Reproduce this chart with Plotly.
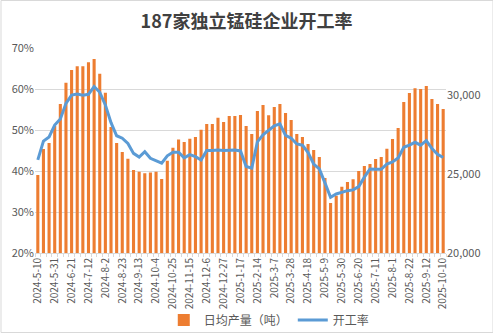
import plotly.graph_objects as go

# Weekly sample dates (holiday weeks 2025-1-31 and 2025-10-3 not reported)
dates = [
    "2024-5-10", "2024-5-17", "2024-5-24", "2024-5-31", "2024-6-7", "2024-6-14",
    "2024-6-21", "2024-6-28", "2024-7-5", "2024-7-12", "2024-7-19", "2024-7-26",
    "2024-8-2", "2024-8-9", "2024-8-16", "2024-8-23", "2024-8-30", "2024-9-6",
    "2024-9-13", "2024-9-20", "2024-9-27", "2024-10-4", "2024-10-11", "2024-10-18",
    "2024-10-25", "2024-11-1", "2024-11-8", "2024-11-15", "2024-11-22", "2024-11-29",
    "2024-12-6", "2024-12-13", "2024-12-20", "2024-12-27",
    "2025-1-3", "2025-1-10", "2025-1-17", "2025-1-24", "2025-2-7", "2025-2-14",
    "2025-2-21", "2025-2-28", "2025-3-7", "2025-3-14", "2025-3-21", "2025-3-28",
    "2025-4-4", "2025-4-11", "2025-4-18", "2025-4-25", "2025-5-2", "2025-5-9",
    "2025-5-16", "2025-5-23", "2025-5-30", "2025-6-6", "2025-6-13", "2025-6-20",
    "2025-6-27", "2025-7-4", "2025-7-11", "2025-7-18", "2025-7-25", "2025-8-1",
    "2025-8-8", "2025-8-15", "2025-8-22", "2025-8-29", "2025-9-5", "2025-9-12",
    "2025-9-19", "2025-9-26", "2025-10-10",
]

# 日均产量（吨）
daily_output = [
    24950, 26590, 26970, 28050, 29450, 30800, 31600, 31850, 31850, 32090,
    32300, 31370, 30160, 27990, 26970, 26400, 25980, 25260, 25150, 25050,
    25110, 25150, 24690, 25850, 26680, 27190, 27040, 27250, 27360, 27820,
    28180, 28180, 28580, 28300, 28690, 28690, 28750, 28050, 27550, 29000,
    29380, 28730, 29260, 29450, 28880, 28430, 27550, 27360, 26910, 26530,
    26090, 24760, 23170, 23630, 24200, 24500, 24670, 25200, 25520, 25640,
    25960, 26090, 26610, 27230, 27930, 29580, 30150, 30440, 30400, 30590,
    29770, 29450, 29130,
]

# 开工率（%）
operating_rate = [
    42.7, 47.3, 48.3, 51.2, 52.7, 56.5, 58.5, 58.8, 58.5, 58.7,
    60.6, 59.2, 56.1, 51.8, 48.6, 48.0, 46.7, 44.3, 43.4, 44.7,
    43.1, 42.4, 41.9, 43.7, 44.6, 44.6, 43.2, 44.0, 43.5, 42.7,
    45.0, 45.0, 45.1, 45.0, 45.0, 45.1, 44.9, 41.1, 40.7, 47.1,
    48.8, 50.0, 51.0, 51.5, 48.7, 48.0, 46.6, 46.3, 44.5, 41.7,
    40.5, 37.1, 33.6, 34.4, 34.8, 35.2, 35.4, 36.2, 38.5, 40.5,
    40.4, 40.4, 41.7, 42.2, 43.2, 45.8, 46.3, 47.0, 46.3, 47.4,
    45.5, 44.1, 43.3,
]

# every third week carries a label
tick_text = [d if i % 3 == 0 else "" for i, d in enumerate(dates)]

FONT = "Noto Sans CJK SC, Noto Sans, sans-serif"
GRID = "#d9d9d9"
TXT = "#595959"

fig = go.Figure()
fig.add_trace(go.Bar(
    x=dates, y=daily_output, name="日均产量（吨）",
    marker=dict(color="#ED7D31", line=dict(width=0)),
    yaxis="y",
))
fig.add_trace(go.Scatter(
    x=dates, y=operating_rate, name="开工率", mode="lines",
    line=dict(color="#5B9BD5", width=3),
    yaxis="y2",
))

fig.update_layout(
    width=493, height=333,
    margin=dict(l=35, r=47, t=48, b=80, autoexpand=False),
    paper_bgcolor="white", plot_bgcolor="white",
    font=dict(family=FONT, size=11, color=TXT),
    bargap=0.45,
    title=dict(
        text="<b>187家独立锰硅企业开工率</b>",
        x=0.5, xanchor="center", xref="container",
        y=1 - 22 / 333, yanchor="middle", yref="container",
        font=dict(family=FONT, size=18, color="#404040"),
    ),
    xaxis=dict(
        type="category", automargin=False,
        tickmode="array", tickvals=dates, ticktext=tick_text,
        tickangle=-90, tickfont=dict(size=10, color=TXT),
        tickson="boundaries", ticks="outside", ticklen=3, tickcolor=GRID,
        showline=True, linecolor=GRID, linewidth=1,
        showgrid=False, range=[-0.5, len(dates) - 0.5],
    ),
    yaxis=dict(
        side="right", range=[20000, 33000], automargin=False,
        tickvals=[20000, 25000, 30000], tickformat=",",
        showgrid=False, zeroline=False, ticks="",
        tickfont=dict(size=11, color=TXT),
    ),
    yaxis2=dict(
        side="left", overlaying="y", range=[20, 70], dtick=10,
        automargin=False,
        ticksuffix="%", showgrid=True, gridcolor=GRID, gridwidth=1,
        zeroline=False, ticks="",
        tickfont=dict(size=11, color=TXT),
    ),
    legend=dict(
        orientation="h", x=0.57, xanchor="center",
        y=-0.327, yanchor="middle",
        font=dict(family=FONT, size=12, color=TXT),
        bgcolor="rgba(0,0,0,0)",
    ),
    shapes=[dict(
        type="rect", xref="paper", yref="paper",
        x0=-34 / 411, x1=458 / 411, y0=-79.5 / 205, y1=252.5 / 205,
        line=dict(color=GRID, width=1), fillcolor="rgba(0,0,0,0)",
        layer="below",
    )],
)

fig.write_html("out.html")
